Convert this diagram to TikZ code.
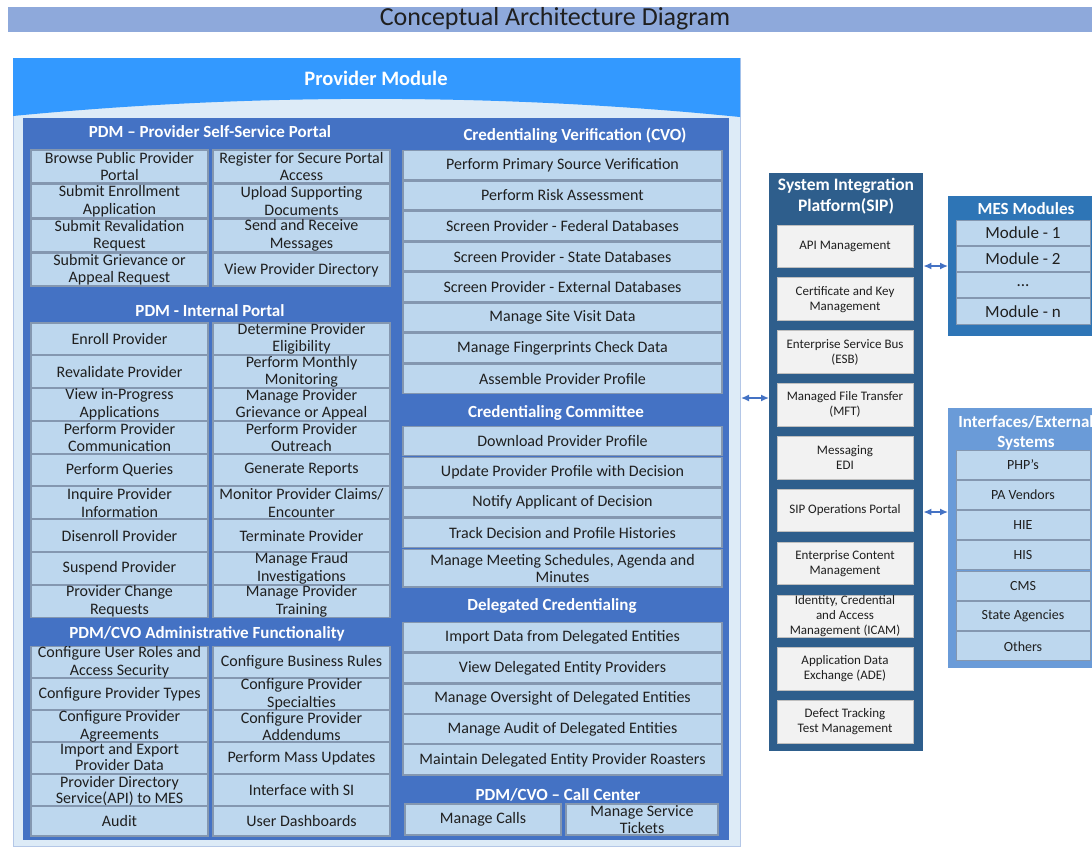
\documentclass[tikz,border=0pt]{standalone}
\usepackage{fontspec}
\setmainfont{Carlito}
\usetikzlibrary{arrows.meta}
\definecolor{titlebar}{HTML}{8EA9DB}
\definecolor{pmhead}{HTML}{3399FF}
\definecolor{pmbody}{HTML}{DDEBF7}
\definecolor{pmline}{HTML}{B4C7E7}
\definecolor{darkarea}{HTML}{4472C4}
\definecolor{cellfill}{HTML}{BDD7EE}
\definecolor{cellline}{HTML}{8497B0}
\definecolor{sipblue}{HTML}{2E5E8C}
\definecolor{sipcell}{HTML}{F2F2F2}
\definecolor{sipline}{HTML}{BFBFBF}
\definecolor{mesblue}{HTML}{2E75B6}
\definecolor{extblue}{HTML}{6A9BD8}
\definecolor{arrowblue}{HTML}{4472C4}
\definecolor{ink}{HTML}{1F1F1F}
\newcommand\cell[7]{\node[#1,minimum width={(#5)-(#3)},minimum height={(#6)-(#4)}] (#2) at ({((#3)+(#5))/2},{-((#4)+(#6))/2}) {}; \node[#1 text] at (#2) {#7};}
\newcommand\lrow[5]{\cell{cellbox}{#1l}{31}{#2}{208}{#3}{#4}\cell{cellbox}{#1r}{213}{#2}{390}{#3}{#5}}
\newcommand\crow[4]{\cell{cellbox}{#1}{403}{#2}{722}{#3}{#4}}
\begin{document}
\begin{tikzpicture}[x=1pt,y=1pt,
  cellbox/.style={draw=cellline,line width=1.2pt,fill=cellfill,inner sep=0pt},
  cellbox text/.style={inner sep=0pt,align=center,text=ink,font=\fontsize{16}{17.5}\selectfont},
  tight text/.style={inner sep=0pt,align=center,text=ink,font=\fontsize{16}{16}\selectfont},
  sipbox/.style={draw=sipline,line width=0.8pt,fill=sipcell,inner sep=0pt},
  sipbox text/.style={inner sep=0pt,align=center,text=ink,font=\fontsize{13}{15}\selectfont},
  mescell/.style={draw=cellline,line width=1pt,fill=cellfill,inner sep=0pt},
  mescell text/.style={inner sep=0pt,align=center,text=ink,font=\fontsize{17}{19}\selectfont},
  extcell/.style={draw=cellline,line width=1pt,fill=cellfill,inner sep=0pt},
  extcell text/.style={inner sep=0pt,align=center,text=ink,font=\fontsize{14}{16}\selectfont},
  hdr/.style={inner sep=0pt,text=white,align=center,font=\bfseries\fontsize{17}{20}\selectfont},
  area/.style={inner sep=0pt,draw=none},
  dbl/.style={{Latex[length=8pt,width=7pt]}-{Latex[length=8pt,width=7pt]},draw=arrowblue,line width=1.4pt}]
\useasboundingbox (0,0) rectangle (1092,-846);
\fill[white] (0,0) rectangle (1092,-846);
% title bar
\node[area,fill=titlebar,minimum width=1084,minimum height=25,anchor=north west] (titlebar) at (8,-7) {};
\node[inner sep=0pt,text=ink,font=\fontsize{26}{30}\selectfont] (title) at (555,-19) {Conceptual Architecture Diagram};
% provider module
\node[area,fill=pmbody,draw=pmline,line width=1pt,minimum width=727,minimum height=788,anchor=north west] (pmbody) at (13,-58) {};
\fill[pmhead] (13,-58) -- (740,-58) -- (740,-117) .. controls (500,-93) and (250,-93) .. (13,-116) -- cycle;
\node[hdr,font=\bfseries\fontsize{20.5}{24}\selectfont] (pmtitle) at (376,-78) {Provider Module};
\node[area,fill=darkarea,minimum width=706,minimum height=722,anchor=north west] (dark) at (23,-118) {};
% left column headers
\node[hdr] (h1) at (210,-132) {PDM – Provider Self-Service Portal};
\node[hdr] (h2) at (210,-311) {PDM - Internal Portal};
\node[hdr] (h3) at (207,-634) {PDM/CVO Administrative Functionality};
% self-service
\lrow{ss1}{150}{183}{Browse Public Provider\\Portal}{Register for Secure Portal\\Access}
\lrow{ss2}{184.5}{217.5}{Submit Enrollment\\Application}{Upload Supporting\\Documents}
\lrow{ss3}{219}{252}{Submit Revalidation\\Request}{Send and Receive\\Messages}
\lrow{ss4}{253.5}{286}{Submit Grievance or\\Appeal Request}{View Provider Directory}
% internal
\lrow{ip1}{323}{355}{Enroll Provider}{Determine Provider\\Eligibility}
\lrow{ip2}{355.75}{387.75}{Revalidate Provider}{Perform Monthly\\Monitoring}
\lrow{ip3}{388.5}{420.5}{View in-Progress\\Applications}{Manage Provider\\Grievance or Appeal}
\lrow{ip4}{421.25}{453.25}{Perform Provider\\Communication}{Perform Provider\\Outreach}
\lrow{ip5}{454}{486}{Perform Queries}{Generate Reports}
\lrow{ip6}{486.75}{518.75}{Inquire Provider\\Information}{Monitor Provider Claims/\\Encounter}
\lrow{ip7}{519.5}{551.5}{Disenroll Provider}{Terminate Provider}
\lrow{ip8}{552.25}{584.25}{Suspend Provider}{Manage Fraud\\Investigations}
\lrow{ip9}{585}{617.5}{Provider Change\\Requests}{Manage Provider\\Training}
% admin
\lrow{ad1}{646.5}{678}{Configure User Roles and\\Access Security}{Configure Business Rules}
\lrow{ad2}{678.5}{710}{Configure Provider Types}{Configure Provider\\Specialties}
\lrow{ad3}{710.5}{742}{Configure Provider\\Agreements}{Configure Provider\\Addendums}
\node[cellbox,minimum width=177,minimum height=31.5] (ad4l) at (119.5,-758.25) {};
\node[tight text] at ([yshift=1pt]ad4l.center) {Import and Export\\Provider Data};
\cell{cellbox}{ad4r}{213}{742.5}{390}{774}{Perform Mass Updates}
\node[cellbox,minimum width=177,minimum height=31.5] (ad5l) at (119.5,-790.25) {};
\node[tight text] at ([yshift=-1pt]ad5l.center) {Provider Directory\\Service(API) to MES};
\cell{cellbox}{ad5r}{213}{774.5}{390}{806}{Interface with SI}
\lrow{ad6}{806.5}{836}{Audit}{User Dashboards}
% right column headers
\node[hdr] (h4) at (575,-136) {Credentialing Verification (CVO)};
\node[hdr] (h5) at (556,-413) {Credentialing Committee};
\node[hdr] (h6) at (552,-606) {Delegated Credentialing};
\node[hdr] (h7) at (558,-795) {PDM/CVO – Call Center};
% CVO
\crow{cv1}{150.5}{179.5}{Perform Primary Source Verification}
\crow{cv2}{181}{210}{Perform Risk Assessment}
\crow{cv3}{211.5}{240.5}{Screen Provider - Federal Databases}
\crow{cv4}{242}{271}{Screen Provider - State Databases}
\crow{cv5}{272.5}{301.5}{Screen Provider - External Databases}
\crow{cv6}{303}{332}{Manage Site Visit Data}
\crow{cv7}{333.5}{362.5}{Manage Fingerprints Check Data}
\crow{cv8}{364}{393.5}{Assemble Provider Profile}
% committee
\crow{cc1}{426.5}{455.5}{Download Provider Profile}
\crow{cc2}{457.3}{486.3}{Update Provider Profile with Decision}
\crow{cc3}{488}{517}{Notify Applicant of Decision}
\crow{cc4}{518.7}{547.7}{Track Decision and Profile Histories}
\crow{cc5}{549.5}{587}{Manage Meeting Schedules, Agenda and\\Minutes}
% delegated
\crow{dc1}{622.7}{652}{Import Data from Delegated Entities}
\crow{dc2}{653.3}{682.6}{View Delegated Entity Providers}
\crow{dc3}{683.9}{713.2}{Manage Oversight of Delegated Entities}
\crow{dc4}{714.4}{743.7}{Manage Audit of Delegated Entities}
\crow{dc5}{744.8}{775}{Maintain Delegated Entity Provider Roasters}
% call center
\cell{cellbox}{cl1}{405}{804}{561}{835}{Manage Calls}
\cell{cellbox}{cl2}{566}{804}{718}{835}{Manage Service\\Tickets}
% SIP
\node[area,fill=sipblue,minimum width=154,minimum height=578,anchor=north west] (sip) at (769,-173) {};
\node[hdr,font=\bfseries\fontsize{17.5}{21}\selectfont] (siptitle) at (846,-196.5) {System Integration\\Platform(SIP)};
\cell{sipbox}{s1}{777}{225}{913}{267.5}{API Management}
\cell{sipbox}{s2}{777}{277.85}{913}{320.35}{Certificate and Key\\Management}
\cell{sipbox}{s3}{777}{330.7}{913}{373.2}{Enterprise Service Bus\\(ESB)}
\cell{sipbox}{s4}{777}{383.55}{913}{426.05}{Managed File Transfer\\(MFT)}
\cell{sipbox}{s5}{777}{436.4}{913}{478.9}{Messaging\\EDI}
\cell{sipbox}{s6}{777}{489.25}{913}{531.75}{SIP Operations Portal}
\cell{sipbox}{s7}{777}{542.1}{913}{584.6}{Enterprise Content\\Management}
\cell{sipbox}{s8}{777}{594.95}{913}{637.45}{Identity, Credential\\and Access\\Management (ICAM)}
\cell{sipbox}{s9}{777}{647.8}{913}{690.3}{Application Data\\Exchange (ADE)}
\cell{sipbox}{s10}{777}{700.65}{913}{743.15}{Defect Tracking\\Test Management}
% MES modules
\node[area,fill=mesblue,minimum width=160,minimum height=140,anchor=north west] (mes) at (948,-196) {};
\node[hdr] (mestitle) at (1026,-209) {MES Modules};
\cell{mescell}{m1}{956}{220}{1090}{245.5}{Module - 1}
\cell{mescell}{m2}{956}{246.2}{1090}{271.7}{Module - 2}
\cell{mescell}{m3}{956}{272.4}{1090}{297.9}{...}
\cell{mescell}{m4}{956}{298.6}{1090}{324}{Module - n}
% Interfaces
\node[area,fill=extblue,minimum width=160,minimum height=260,anchor=north west] (ext) at (948,-408) {};
\node[hdr,font=\bfseries\fontsize{17}{20}\selectfont] (exttitle) at (1026,-433) {Interfaces/External\\Systems};
\cell{extcell}{e1}{956}{450}{1090}{479}{PHP’s}
\cell{extcell}{e2}{956}{480.3}{1090}{509.3}{PA Vendors}
\cell{extcell}{e3}{956}{510.6}{1090}{539.6}{HIE}
\cell{extcell}{e4}{956}{540.9}{1090}{569.9}{HIS}
\cell{extcell}{e5}{956}{571.2}{1090}{600.2}{CMS}
\cell{extcell}{e6}{956}{601.5}{1090}{630.5}{State Agencies}
\cell{extcell}{e7}{956}{631.8}{1090}{660.8}{Others}
% connectors
\coordinate (ya) at (0,-398);
\coordinate (yb) at (0,-266);
\coordinate (yc) at (0,-512);
\draw[dbl] (pmbody.east |- ya) -- (sip.west |- ya);
\draw[dbl] (sip.east |- yb) -- (mes.west |- yb);
\draw[dbl] (sip.east |- yc) -- (ext.west |- yc);
\end{tikzpicture}
\end{document}
